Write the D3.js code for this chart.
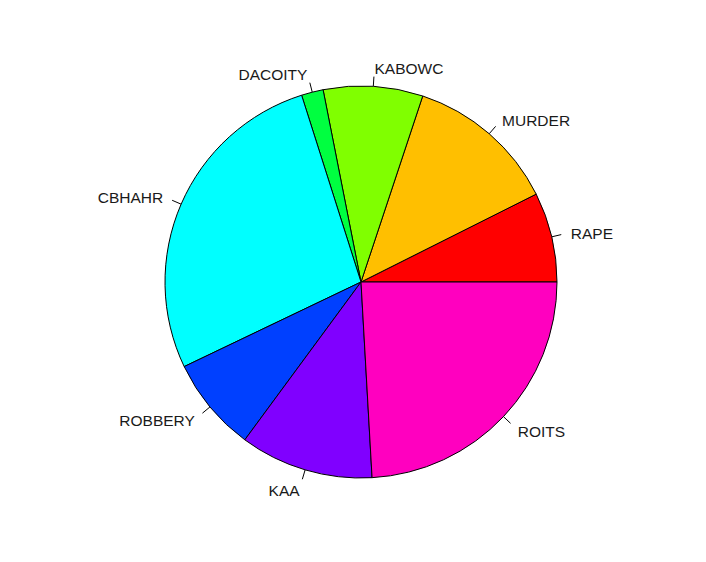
<!DOCTYPE html>
<html><head><meta charset="utf-8">
<script src="https://cdn.jsdelivr.net/npm/d3@7"></script>
<style>html,body{margin:0;padding:0;background:#fff;}svg{display:block;}</style>
</head><body>
<svg id="chart" width="706" height="562"></svg>
<script>
const categories = ["RAPE","MURDER","KABOWC","DACOITY","CBHAHR","ROBBERY","KAA","ROITS"];
const values = [7.4, 12.5, 8.2, 1.8, 27.2, 7.8, 11.0, 24.1];
const colors = ["#FF0000","#FFBF00","#80FF00","#00FF40","#00FFFF","#0040FF","#8000FF","#FF00BF"];

const svg = d3.select("#chart");
const cx = 361, cy = 282, r = 196;
const g = svg.append("g").attr("transform", `translate(${cx},${cy})`);

// R pie: counter-clockwise starting at 3 o'clock
const total = d3.sum(values);
const angle = d3.scaleLinear().domain([0, total]).range([0, 2 * Math.PI]);
let cum = 0;
const slices = values.map((v, i) => {
  const a0 = angle(cum); cum += v; const a1 = angle(cum);
  return {i, a0, a1};
});
const toD3 = a => Math.PI / 2 - a;
const arc = d3.arc().innerRadius(0).outerRadius(r);

g.selectAll("path.slice").data(slices).enter().append("path")
  .attr("class", "slice")
  .attr("d", d => arc({startAngle: toD3(d.a1), endAngle: toD3(d.a0)}))
  .attr("fill", d => colors[d.i])
  .attr("stroke", "#000")
  .attr("stroke-width", 1);

slices.forEach(d => {
  const m = (d.a0 + d.a1) / 2;
  const c = Math.cos(m), s = Math.sin(m);
  g.append("line")
    .attr("x1", r * c).attr("y1", -r * s)
    .attr("x2", 1.05 * r * c).attr("y2", -1.05 * r * s)
    .attr("stroke", "#000").attr("stroke-width", 1);
  g.append("text")
    .attr("x", 1.1 * r * c).attr("y", -1.1 * r * s)
    .attr("dy", "0.45em")
    .attr("text-anchor", c > 0 ? "start" : "end")
    .attr("font-family", "Liberation Sans, Arial, sans-serif")
    .attr("font-size", 15.5)
    .attr("fill", "#1a1a1a")
    .text(categories[d.i]);
});
</script>
</body></html>
